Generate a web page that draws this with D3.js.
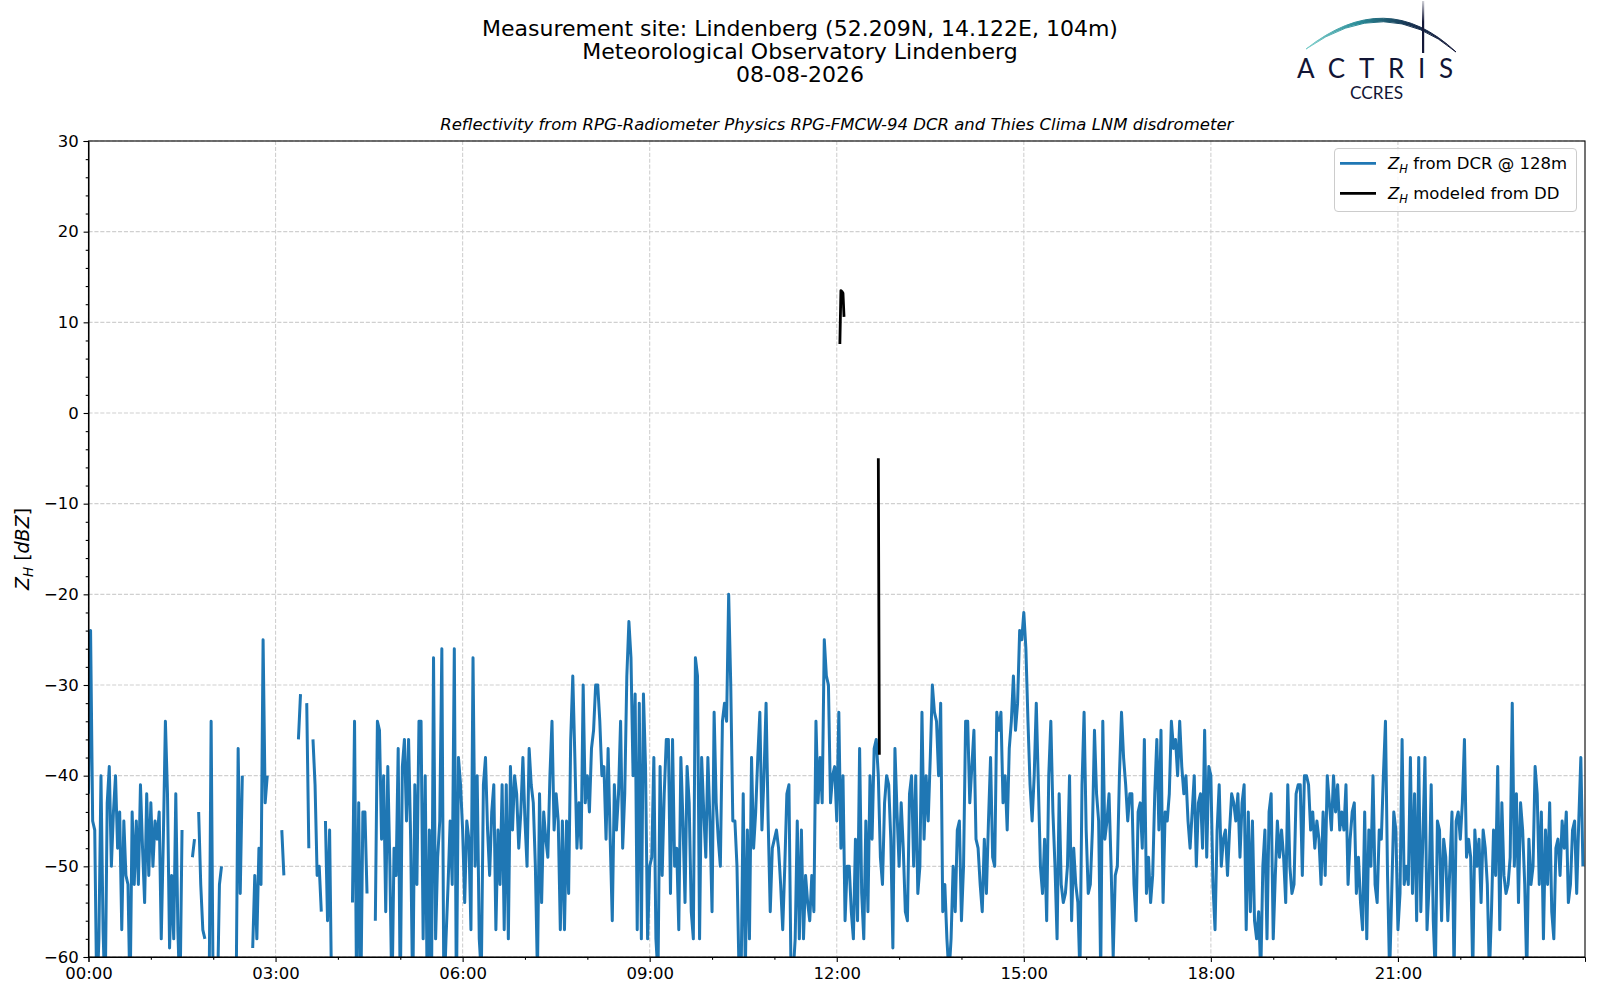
<!DOCTYPE html>
<html lang="en">
<head>
    <meta charset="UTF-8">
    <title>Reflectivity Lindenberg</title>
    <script src="https://d3js.org/d3.v7.min.js"></script>
    <style>
        body { margin: 0; background: #fff; }
        svg text { font-family: "DejaVu Sans", sans-serif; fill: #000; }
    </style>
</head>
<body>
    <div id="chart"></div>
    <script>
        // Z_H from the DCR, one sample every 2 minutes, one array per 3 hours (null = no data)
        var zh00 = [-42,-24,-45,-46,-65,-58,-40,-57,-65,-43,
                    -39,-50,-44,-40,-48,-44,-57,-45,-51,-52,
                    -65,-44,-52,-45,-52,-41,-48,-54,-42,-51,
                    -43,-50,-45,-47,-44,-58,-47,-34,-42,-59,
                    -51,-58,-42,-57,-65,-46,null,null,null,null,
                    -49,-47,null,-44,-52,-57,-58,null,-65,-34,
                    -65,null,-65,-52,-50,null,null,null,null,null,
                    null,-65,-37,-53,-40,null,null,null,null,-59,
                    -51,-58,-48,-52,-25,-43,-40,null,null,null];
        var zh03 = [null,null,null,-46,-51,null,null,null,null,null,
                    null,-36,-31,null,null,-32,-48,null,-36,-41,
                    -51,-50,-55,null,-45,-56,-46,-65,null,null,
                    null,null,null,null,null,null,null,-54,-34,-65,
                    -43,-65,-44,-44,-53,null,null,null,-56,-34,
                    -35,-47,-40,-55,-39,-50,-65,-48,-51,-37,
                    -65,-39,-36,-45,-36,-47,-65,-41,-52,-34,
                    -34,-58,-40,-65,-46,-65,-27,-58,-49,-45,
                    -26,-65,-58,-52,-45,-52,-26,-65,-38,-41];
        var zh06 = [-46,-54,-45,-47,-57,-27,-50,-40,-58,-62,
                    -41,-38,-46,-51,-44,-41,-57,-46,-52,-41,
                    -57,-41,-58,-39,-46,-40,-42,-48,-44,-38,
                    -45,-50,-37,-41,-43,-50,-62,-42,-54,-44,
                    -47,-49,-40,-34,-46,-42,-45,-57,-45,-57,
                    -45,-53,-36,-29,-38,-48,-43,-48,-30,-43,
                    -40,-44,-37,-35,-30,-30,-34,-40,-39,-47,
                    -37,-47,-56,-41,-46,-42,-34,-48,-42,-29,
                    -23,-27,-40,-31,-57,-32,-58,-31,-39,-58];
        var zh09 = [-50,-49,-38,-58,-62,-39,-51,-42,-36,-36,
                    -53,-36,-50,-48,-57,-38,-45,-54,-39,-43,
                    -55,-58,-27,-29,-58,-38,-44,-49,-38,-45,
                    -55,-33,-43,-47,-50,-34,-32,-34,-20,-30,
                    -45,-45,-50,-62,-62,-42,-62,-46,-58,-38,
                    -48,-44,-38,-33,-46,-40,-32,-45,-55,-48,
                    -47,-46,-48,-52,-57,-50,-42,-41,-62,-62,
                    -58,-45,-58,-46,-58,-51,-54,-56,-51,-55,
                    -34,-43,-38,-43,-25,-29,-30,-43,-40,-39];
        var zh12 = [-45,-33,-48,-40,-56,-50,-50,-55,-58,-47,
                    -56,-37,-53,-58,-45,-55,-40,-47,-37,-36,
                    -40,-49,-52,-43,-40,-41,-47,-59,-37,-44,
                    -50,-43,-48,-55,-56,-42,-40,-50,-40,-53,
                    -50,-33,-47,-40,-45,-38,-30,-33,-34,-40,
                    -32,-55,-52,-58,-62,-58,-50,-55,-46,-45,
                    -56,-50,-34,-34,-43,-39,-35,-47,-48,-52,
                    -55,-47,-53,-45,-38,-49,-50,-33,-35,-33,
                    -43,-40,-46,-37,-34,-29,-35,-32,-24,-25];
        var zh15 = [-22,-26,-34,-41,-45,-40,-32,-41,-50,-53,
                    -47,-56,-40,-34,-44,-50,-58,-42,-52,-54,
                    -53,-50,-40,-56,-48,-52,-54,-62,-41,-33,
                    -46,-53,-52,-46,-35,-42,-45,-62,-34,-47,
                    -45,-42,-50,-60,-51,-50,-40,-33,-38,-41,
                    -45,-42,-42,-52,-56,-44,-43,-48,-36,-53,
                    -49,-54,-51,-42,-36,-46,-35,-54,-44,-45,
                    -42,-34,-37,-36,-40,-34,-39,-42,-40,-45,
                    -48,-44,-40,-50,-43,-42,-48,-35,-49,-39];
        var zh18 = [-40,-52,-57,-46,-41,-50,-47,-46,-51,-46,
                    -42,-43,-45,-42,-49,-43,-41,-57,-44,-55,
                    -45,-56,-58,-55,-62,-50,-46,-58,-44,-42,
                    -58,-51,-45,-49,-46,-49,-54,-41,-50,-53,
                    -52,-42,-41,-41,-51,-40,-40,-41,-46,-44,
                    -48,-45,-47,-52,-44,-51,-40,-43,-46,-40,
                    -44,-41,-46,-44,-46,-41,-52,-47,-44,-43,
                    -53,-49,-54,-57,-44,-58,-46,-50,-40,-52,
                    -54,-46,-47,-40,-34,-51,-62,-53,-44,-46];
        var zh21 = [-57,-53,-36,-52,-50,-52,-38,-53,-42,-56,
                    -38,-55,-47,-38,-57,-52,-41,-56,-62,-45,
                    -46,-56,-47,-49,-56,-50,-44,-62,-45,-44,
                    -47,-43,-36,-49,-47,-49,-62,-46,-50,-47,
                    -54,-46,-48,-52,-62,-55,-46,-51,-39,-57,
                    -43,-51,-53,-52,-49,-32,-50,-42,-54,-43,
                    -46,-52,-62,-47,-52,-50,-39,-42,-52,-44,
                    -58,-46,-52,-43,-55,-58,-48,-47,-51,-45,
                    -48,-44,-54,-52,-46,-45,-53,-45,-38,-50];

        // Z_H modelled from the disdrometer (minute of day, dBZ)
        var ddMinute = [723, 724, 725, 726, 727, 728, 760, 761];
        var ddZh = [7.6, 13.5, 13.4, 13.2, 10.6, null, -5, -37.7];

        var xTickHours = [0, 3, 6, 9, 12, 15, 18, 21];
        var yTicks = [-60, -50, -40, -30, -20, -10, 0, 10, 20, 30];
        var titleLines = ["Measurement site: Lindenberg (52.209N, 14.122E, 104m)",
                          "Meteorological Observatory Lindenberg",
                          "08-08-2026"];
        var subTitle = "Reflectivity from RPG-Radiometer Physics RPG-FMCW-94 DCR and Thies Clima LNM disdrometer";

        var blue = "#1f77b4";
        var margin = { top: 141, right: 15, bottom: 43, left: 88.5 };
        var W = 1600, H = 1000;
        var width = W - margin.left - margin.right;
        var height = H - margin.top - margin.bottom;

        var root = d3.select("#chart").append("svg")
            .attr("width", W)
            .attr("height", H);

        // titles
        root.selectAll(".title-line")
            .data(titleLines)
            .enter().append("text")
            .attr("x", 800)
            .attr("y", function (d, i) { return 36 + i * 23; })
            .attr("text-anchor", "middle")
            .style("font-size", "22px")
            .text(function (d) { return d; });

        root.append("text")
            .attr("x", margin.left + width / 2)
            .attr("y", 130)
            .attr("text-anchor", "middle")
            .style("font-size", "16.5px")
            .style("font-style", "italic")
            .text(subTitle);

        // logo
        var defs = root.append("defs");
        var grad = defs.append("linearGradient")
            .attr("id", "arcGrad")
            .attr("gradientUnits", "userSpaceOnUse")
            .attr("x1", 1306).attr("y1", 0).attr("x2", 1455).attr("y2", 0);
        grad.append("stop").attr("offset", "0%").attr("stop-color", "#7fd0cc");
        grad.append("stop").attr("offset", "35%").attr("stop-color", "#2a8c98");
        grad.append("stop").attr("offset", "70%").attr("stop-color", "#16304f");
        grad.append("stop").attr("offset", "100%").attr("stop-color", "#141838");
        var vgrad = defs.append("linearGradient")
            .attr("id", "mastGrad")
            .attr("x1", 0).attr("y1", 0).attr("x2", 0).attr("y2", 1);
        vgrad.append("stop").attr("offset", "0%").attr("stop-color", "#141838").attr("stop-opacity", 0.2);
        vgrad.append("stop").attr("offset", "40%").attr("stop-color", "#141838").attr("stop-opacity", 1);

        root.append("path")
            .attr("d", "M1306,49 Q1386,-14 1456,52 Q1386,-7 1306,49 Z")
            .attr("fill", "url(#arcGrad)")
            .attr("stroke", "url(#arcGrad)")
            .attr("stroke-width", 1);
        root.append("rect")
            .attr("x", 1422).attr("y", 1)
            .attr("width", 2.2).attr("height", 52)
            .attr("fill", "url(#mastGrad)");
        root.append("text")
            .attr("x", 1297).attr("y", 78)
            .attr("textLength", 156)
            .attr("lengthAdjust", "spacing")
            .style("font-family", "Lato, 'Open Sans', sans-serif")
            .style("font-size", "26px")
            .style("fill", "#121535")
            .text("ACTRIS");
        root.append("text")
            .attr("x", 1350).attr("y", 99)
            .attr("textLength", 53)
            .attr("lengthAdjust", "spacingAndGlyphs")
            .style("font-family", "Lato, 'Open Sans', sans-serif")
            .style("font-size", "18px")
            .style("fill", "#121535")
            .text("CCRES");

        var svg = root.append("g")
            .attr("transform", "translate(" + margin.left + "," + margin.top + ")");

        var x = d3.scaleLinear().domain([0, 1440]).range([0, width]);
        var y = d3.scaleLinear().domain([-60, 30]).range([height, 0]);

        // grid
        svg.append("g").selectAll("line")
            .data(xTickHours)
            .enter().append("line")
            .attr("x1", function (d) { return x(d * 60); })
            .attr("x2", function (d) { return x(d * 60); })
            .attr("y1", 0).attr("y2", height)
            .attr("stroke", "#d0d0d0").attr("stroke-width", 1.1)
            .attr("stroke-dasharray", "4.1,1.8");
        svg.append("g").selectAll("line")
            .data(yTicks)
            .enter().append("line")
            .attr("x1", 0).attr("x2", width)
            .attr("y1", function (d) { return y(d); })
            .attr("y2", function (d) { return y(d); })
            .attr("stroke", "#d0d0d0").attr("stroke-width", 1.1)
            .attr("stroke-dasharray", "4.1,1.8");

        // series
        svg.append("clipPath").attr("id", "plotClip")
            .append("rect").attr("width", width).attr("height", height);

        var blocks = [zh00, zh03, zh06, zh09, zh12, zh15, zh18, zh21];
        var dcr = [];
        blocks.forEach(function (b, bi) {
            b.forEach(function (z, i) { dcr.push({ t: bi * 180 + i * 2, z: z }); });
        });
        var dd = ddMinute.map(function (t, i) { return { t: t, z: ddZh[i] }; });

        var line = d3.line()
            .defined(function (d) { return d.z !== null; })
            .x(function (d) { return x(d.t); })
            .y(function (d) { return y(d.z); });

        var plot = svg.append("g").attr("clip-path", "url(#plotClip)");
        plot.append("path")
            .datum(dcr)
            .attr("d", line)
            .attr("fill", "none")
            .attr("stroke", blue)
            .attr("stroke-width", 3)
            .attr("stroke-linejoin", "round");
        plot.append("path")
            .datum(dd)
            .attr("d", line)
            .attr("fill", "none")
            .attr("stroke", "#000")
            .attr("stroke-width", 2.8)
            .attr("stroke-linejoin", "round");

        // axes
        svg.append("g")
            .attr("transform", "translate(0," + height + ")")
            .call(d3.axisBottom(x)
                .tickValues(xTickHours.map(function (h) { return h * 60; }))
                .tickFormat(function (m) { return d3.format("02d")(m / 60) + ":00"; })
                .tickSize(4.9).tickPadding(4.9));
        svg.append("g")
            .attr("transform", "translate(0," + height + ")")
            .call(d3.axisBottom(x)
                .tickValues(d3.range(1, 24).filter(function (h) { return h % 3 !== 0; }).map(function (h) { return h * 60; }))
                .tickFormat("").tickSize(2.8))
            .select(".domain").remove();

        svg.append("g")
            .call(d3.axisLeft(y).tickValues(yTicks).tickSize(4.9).tickPadding(4.9));
        svg.append("g")
            .call(d3.axisLeft(y)
                .tickValues(d3.range(-58, 30, 2).filter(function (v) { return v % 10 !== 0; }))
                .tickFormat("").tickSize(2.8))
            .select(".domain").remove();

        svg.selectAll(".tick text")
            .style("font-family", "'DejaVu Sans', sans-serif")
            .style("font-size", "16.5px");
        svg.selectAll(".tick line").attr("stroke-width", 1.1);

        // right and top spines
        svg.append("rect")
            .attr("width", width).attr("height", height)
            .attr("fill", "none").attr("stroke", "#000").attr("stroke-width", 1.1);

        // y label
        var ylab = root.append("text")
            .attr("transform", "translate(29," + (margin.top + height / 2) + ") rotate(-90)")
            .attr("text-anchor", "middle")
            .style("font-size", "19px");
        ylab.append("tspan").style("font-style", "italic").text("Z");
        ylab.append("tspan").style("font-style", "italic").style("font-size", "13.5px").attr("dy", 4).text("H");
        ylab.append("tspan").attr("dy", -4).text(" [");
        ylab.append("tspan").style("font-style", "italic").text("dBZ");
        ylab.append("tspan").text("]");

        // legend
        var lg = root.append("g");
        lg.append("rect")
            .attr("x", 1334.5).attr("y", 148.5)
            .attr("width", 242).attr("height", 63)
            .attr("rx", 3.5)
            .attr("fill", "#fff").attr("fill-opacity", 0.8)
            .attr("stroke", "#cccccc").attr("stroke-width", 1);
        var entries = [
            { color: blue, label: " from DCR @ 128m", y: 163.3 },
            { color: "#000", label: " modeled from DD", y: 193.3 }
        ];
        entries.forEach(function (e) {
            lg.append("line")
                .attr("x1", 1340).attr("x2", 1376)
                .attr("y1", e.y).attr("y2", e.y)
                .attr("stroke", e.color).attr("stroke-width", 2.8);
            var t = lg.append("text")
                .attr("x", 1388).attr("y", e.y + 6)
                .style("font-size", "16.5px");
            t.append("tspan").style("font-style", "italic").text("Z");
            t.append("tspan").style("font-style", "italic").style("font-size", "11.5px").attr("dy", 3.5).text("H");
            t.append("tspan").attr("dy", -3.5).text(e.label);
        });
    </script>
</body>
</html>
